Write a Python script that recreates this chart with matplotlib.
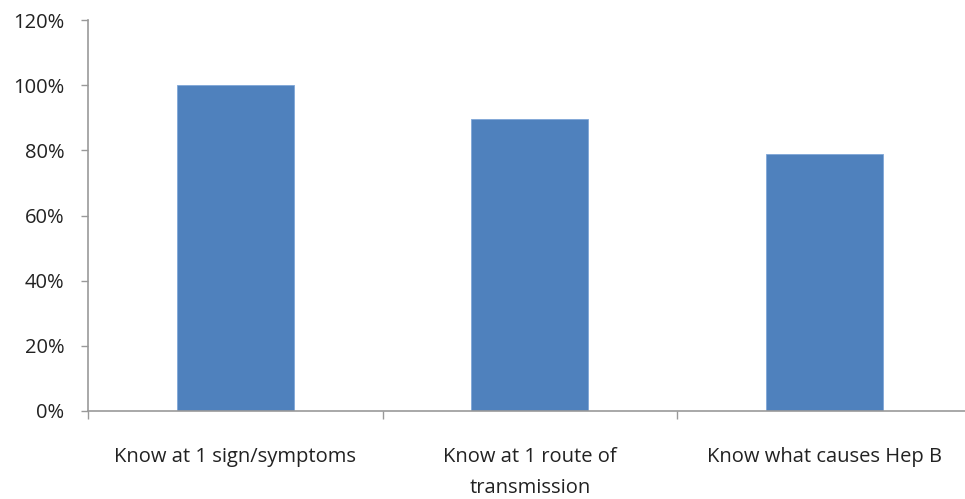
import matplotlib
matplotlib.use("Agg")
import matplotlib.pyplot as plt
from matplotlib.ticker import FixedLocator, PercentFormatter

categories = ["Know at 1 sign/symptoms", "Know at 1 route of\ntransmission", "Know what causes Hep B"]
values = [100, 89.5, 79]
yticks = [0, 20, 40, 60, 80, 100, 120]

plt.rcParams['font.family'] = ['Open Sans', 'DejaVu Sans']

fig = plt.figure(figsize=(9.65, 4.99), dpi=100)
ax = fig.add_axes([88/965, 1 - 411/499, 1 - 88/965, (411 - 20)/499])

x = list(range(len(categories)))
ax.bar(x, values, width=0.397, color="#4F81BD", edgecolor="#7FA6D8", linewidth=0.6, zorder=2)

ax.set_xlim(-0.5, (965 - 235.5) / 294.5)
ax.set_ylim(0, 120)
ax.set_yticks(yticks)
ax.yaxis.set_major_formatter(PercentFormatter(decimals=0))

ax.set_xticks(x)
ax.set_xticklabels(categories, fontsize=14.5, color="#222222", linespacing=1.75)
ax.xaxis.set_minor_locator(FixedLocator([-0.5, 0.5, 1.5, 2.5]))
ax.tick_params(axis='x', which='major', length=0, pad=26)
ax.tick_params(axis='x', which='minor', length=6, width=1, color="#999999")
ax.tick_params(axis='y', length=5, width=1, color="#999999", labelsize=14.5, labelcolor="#222222", pad=12)

for s in ["top", "right"]:
    ax.spines[s].set_visible(False)
for s in ["left", "bottom"]:
    ax.spines[s].set_color("#999999")
    ax.spines[s].set_linewidth(1.2)
ax.spines["bottom"].set_zorder(3)

fig.savefig("out.png", dpi=100)
